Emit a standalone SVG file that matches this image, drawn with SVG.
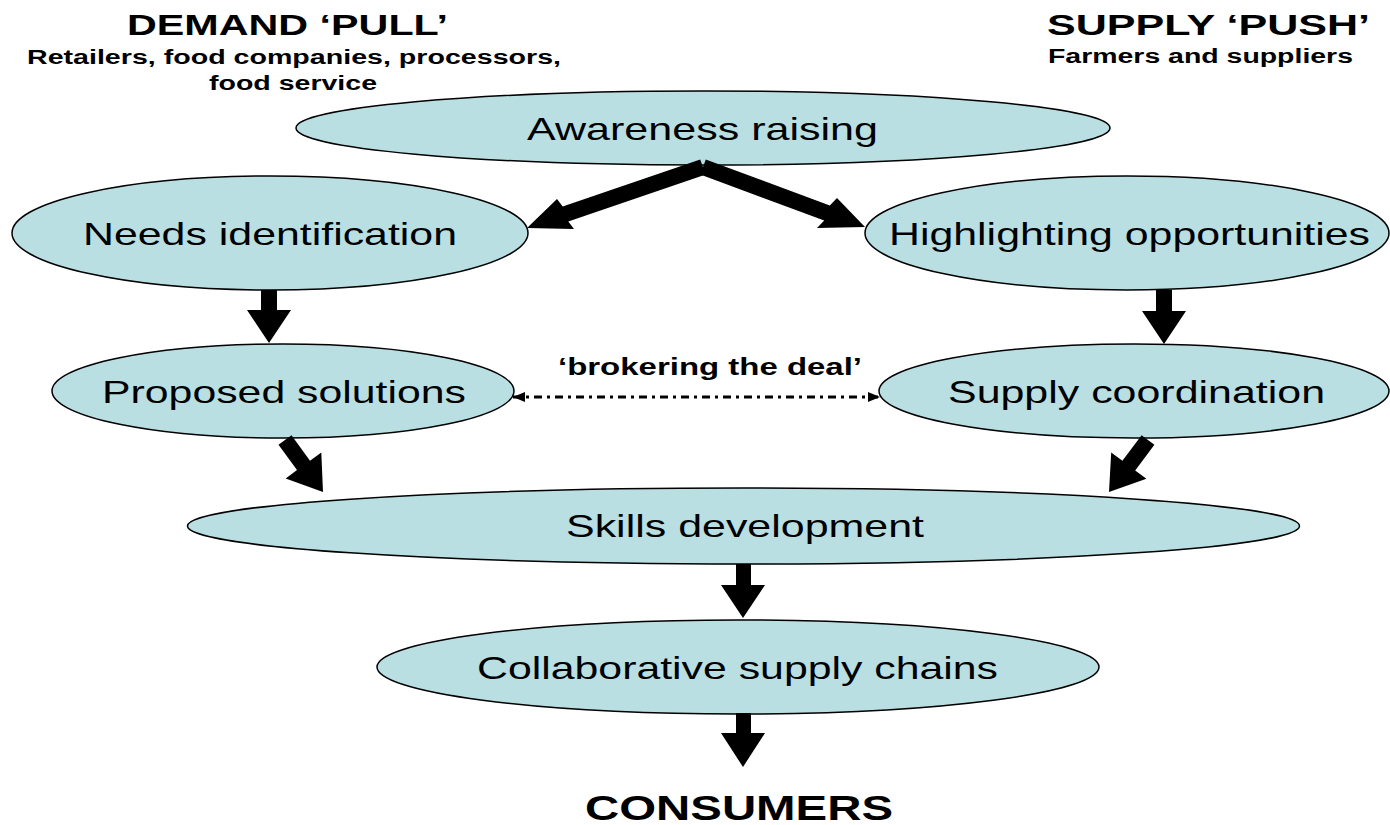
<svg xmlns="http://www.w3.org/2000/svg" width="1390" height="825" viewBox="0 0 1390 825">
<style>
.node{fill:#B9DFE3;stroke:#000;stroke-width:1.5}
.lbl{font-family:"Liberation Sans",Arial,sans-serif;font-size:32px;fill:#000;text-anchor:middle}
.hd{font-family:"Liberation Sans",Arial,sans-serif;font-weight:bold;fill:#000;text-anchor:middle}
.blk{fill:#000;stroke:none}
.dash{fill:none;stroke:#000;stroke-width:3;stroke-dasharray:8 5 3 5}
</style>
<defs>
<marker id="ah" viewBox="0 0 12 10" refX="12" refY="5" markerWidth="12" markerHeight="10" markerUnits="userSpaceOnUse" orient="auto-start-reverse">
<path d="M0,0 L12,5 L0,10 z" fill="#000"/>
</marker>
</defs>
<rect width="1390" height="825" fill="#fff"/>
<g id="headings">
<text class="hd" x="287.5" y="35" font-size="29" textLength="321" lengthAdjust="spacingAndGlyphs">DEMAND ‘PULL’</text>
<text class="hd" x="294" y="64" font-size="20" textLength="534" lengthAdjust="spacingAndGlyphs">Retailers, food companies, processors,</text>
<text class="hd" x="293" y="90" font-size="20" textLength="168" lengthAdjust="spacingAndGlyphs">food service</text>
<text class="hd" x="1208.5" y="35" font-size="29" textLength="323" lengthAdjust="spacingAndGlyphs">SUPPLY ‘PUSH’</text>
<text class="hd" x="1200.5" y="63" font-size="20" textLength="305" lengthAdjust="spacingAndGlyphs">Farmers and suppliers</text>
<text class="hd" x="739" y="820" font-size="35" textLength="308" lengthAdjust="spacingAndGlyphs">CONSUMERS</text>
</g>
<g id="n-awareness">
<ellipse class="node" cx="703" cy="128" rx="407" ry="37"/>
<text class="lbl" x="702.5" y="140" textLength="351" lengthAdjust="spacingAndGlyphs">Awareness raising</text>
</g>
<g id="n-needs">
<ellipse class="node" cx="270" cy="233" rx="258" ry="57"/>
<text class="lbl" x="270" y="245" textLength="374" lengthAdjust="spacingAndGlyphs">Needs identification</text>
</g>
<g id="n-highlight">
<ellipse class="node" cx="1127" cy="233" rx="262" ry="57"/>
<text class="lbl" x="1129.5" y="245" textLength="481" lengthAdjust="spacingAndGlyphs">Highlighting opportunities</text>
</g>
<g id="n-proposed">
<ellipse class="node" cx="283" cy="391" rx="231" ry="47"/>
<text class="lbl" x="284" y="403" textLength="364" lengthAdjust="spacingAndGlyphs">Proposed solutions</text>
</g>
<g id="n-supply">
<ellipse class="node" cx="1134" cy="391" rx="255" ry="47"/>
<text class="lbl" x="1136.5" y="403" textLength="377" lengthAdjust="spacingAndGlyphs">Supply coordination</text>
</g>
<g id="n-skills">
<ellipse class="node" cx="743.5" cy="526" rx="556" ry="38"/>
<text class="lbl" x="745" y="537" textLength="358" lengthAdjust="spacingAndGlyphs">Skills development</text>
</g>
<g id="n-collab">
<ellipse class="node" cx="738" cy="667" rx="361" ry="47"/>
<text class="lbl" x="737.5" y="679" textLength="521" lengthAdjust="spacingAndGlyphs">Collaborative supply chains</text>
</g>
<g id="connectors">
<polygon class="blk" points="700.2,159.5 562.7,206.5 557,199 527,228 574,229 568.3,221.5 705.8,174.5"/>
<polygon class="blk" points="705.8,159.5 829.8,205.5 837,198 865,227 817,228 824.2,220.5 700.2,174.5"/>
<polygon class="blk" points="261,290 277,290 277,310 291,310 269,343 247,310 261,310"/>
<polygon class="blk" points="1156,290 1172,290 1172,311 1186,311 1164,344 1142,311 1156,311"/>
<polygon class="blk" points="278.5,444.7 297,470.1 285.7,478.4 323,492 321.3,452.4 310,460.7 291.5,435.3"/>
<polygon class="blk" points="1154.4,444.8 1135.2,470.4 1146.4,478.8 1109,492 1111.2,452.4 1122.4,460.8 1141.6,435.2"/>
<polygon class="blk" points="736,564 751,564 751,585 765,585 743,618 721,585 736,585"/>
<polygon class="blk" points="736,713 751,713 751,733 765,733 743,767 721,733 736,733"/>
<line class="dash" x1="513" y1="397" x2="880" y2="397" marker-start="url(#ah)" marker-end="url(#ah)"/>
<text class="hd" x="710" y="375" font-size="23" textLength="304" lengthAdjust="spacingAndGlyphs">‘brokering the deal’</text>
</g>
</svg>
